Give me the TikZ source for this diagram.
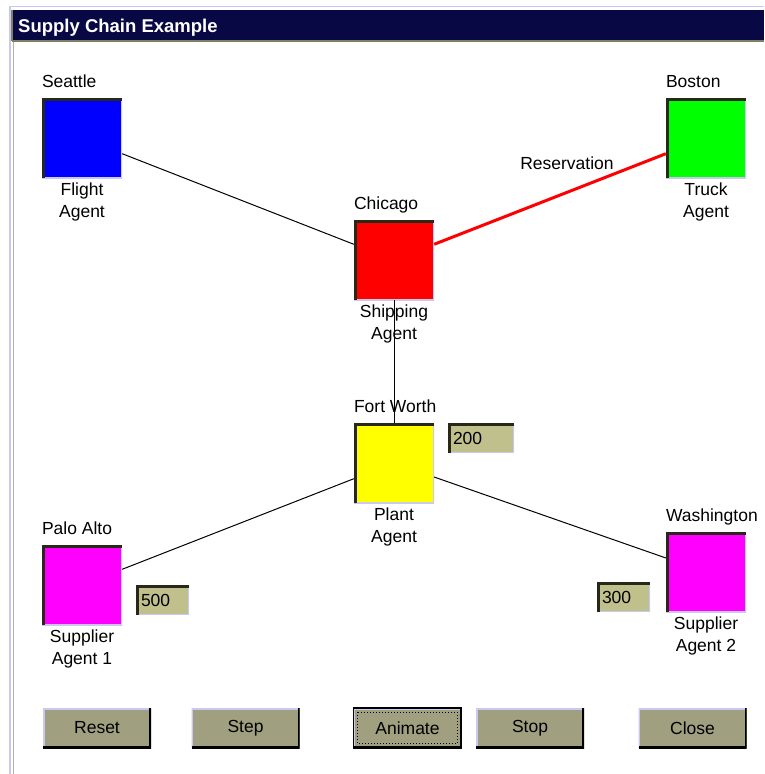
\documentclass[tikz,border=0pt]{standalone}
\usepackage{fontspec}
\setmainfont{Liberation Sans}
\usetikzlibrary{positioning}

\definecolor{titlenavy}{RGB}{8,8,68}
\definecolor{facegray}{RGB}{160,160,128}
\definecolor{fieldkhaki}{RGB}{192,192,140}
\definecolor{bevellight}{RGB}{200,200,240}
\definecolor{beveldark}{RGB}{40,40,24}
\definecolor{frameolive}{RGB}{128,128,96}
\definecolor{flightblue}{RGB}{0,0,255}
\definecolor{truckgreen}{RGB}{0,255,0}
\definecolor{shippingred}{RGB}{255,0,0}
\definecolor{plantyellow}{RGB}{255,255,0}
\definecolor{suppliermagenta}{RGB}{255,0,255}

\newcommand{\uifont}{\fontsize{17.5}{22}\selectfont}

\tikzset{
  sunken/.style={path picture={
      \draw[bevellight, line width=2pt] (path picture bounding box.north east) -- (path picture bounding box.south east) -- (path picture bounding box.south west);
      \draw[beveldark, line width=5pt] (path picture bounding box.south west) -- (path picture bounding box.north west) -- (path picture bounding box.north east);}},
  raised/.style={path picture={
      \draw[bevellight, line width=3pt] (path picture bounding box.south west) -- (path picture bounding box.north west) -- (path picture bounding box.north east);
      \draw[black, line width=4pt] (path picture bounding box.north east) -- (path picture bounding box.south east) -- (path picture bounding box.south west);}},
}

\begin{document}
\begin{tikzpicture}[x=1pt, y=-1pt,
    agent/.style = {sunken, minimum size=80pt, inner sep=0pt},
    city/.style = {anchor=base west, inner sep=0pt, font=\uifont},
    role/.style = {align=center, inner sep=0pt, font=\uifont},
    stock/.style = {sunken, fill=fieldkhaki, minimum height=29pt, inner xsep=5pt, align=left, font=\uifont},
    button/.style = {raised, fill=facegray, minimum width=108pt, minimum height=40pt, font=\uifont},
    link/.style = {line width=1pt},
    reservation/.style = {link, shippingred, line width=3pt}]

  % Window frame
  \useasboundingbox (0,0) rectangle (764,774);
  \fill[white] (0,0) rectangle (764,774);
  \draw[bevellight] (10,6) -- (764,6);
  \draw[bevellight, line width=1.5pt] (10,6) -- (10,774);
  \draw[frameolive!60] (13.5,42) -- (13.5,774);
  \fill[titlenavy] (12,10) rectangle (764,40);
  \draw[frameolive, line width=1.5pt] (12,41) -- (764,41);
  \draw[frameolive, line width=1.5pt] (12,10) -- (12,41);
  \node[anchor=base west, text=white, font=\bfseries\fontsize{18.5}{22}\selectfont, inner sep=0pt] (title) at (18,32) {Supply Chain Example};

  % Seattle
  \node[agent, fill=flightblue] (seattle) at (82,138) {};
  \node[city] (seattle-city) at ([yshift=10pt]seattle.north west) {Seattle};
  \node[role, below=4pt of seattle] (seattle-role) {Flight\\Agent};

  % Boston
  \node[agent, fill=truckgreen] (boston) at (706,138) {};
  \node[city] (boston-city) at ([yshift=10pt]boston.north west) {Boston};
  \node[role, below=4pt of boston] (boston-role) {Truck\\Agent};

  % Chicago
  \node[agent, fill=shippingred] (chicago) at (394,260) {};
  \node[city] (chicago-city) at ([yshift=10pt]chicago.north west) {Chicago};
  \node[role, below=4pt of chicago] (chicago-role) {Shipping\\Agent};

  % Fort Worth
  \node[agent, fill=plantyellow] (fortworth) at (394,463) {};
  \node[city] (fortworth-city) at ([yshift=10pt]fortworth.north west) {Fort Worth};
  \node[role, below=4pt of fortworth] (fortworth-role) {Plant\\Agent};
  \node[stock, text width=56pt] (fortworth-stock) at (481,438) {200};

  % Palo Alto
  \node[agent, fill=suppliermagenta] (paloalto) at (82,585) {};
  \node[city] (paloalto-city) at ([yshift=10pt]paloalto.north west) {Palo Alto};
  \node[role, below=4pt of paloalto] (paloalto-role) {Supplier\\Agent 1};
  \node[stock, text width=43pt] (paloalto-stock) at (162.5,600) {500};

  % Washington
  \node[agent, fill=suppliermagenta] (washington) at (706,572) {};
  \node[city] (washington-city) at ([yshift=10pt]washington.north west) {Washington};
  \node[role, below=4pt of washington] (washington-role) {Supplier\\Agent 2};
  \node[stock, text width=43pt] (washington-stock) at (623.5,597) {300};

  % Links
  \draw[link] (seattle) -- (chicago);
  \draw[reservation] (chicago) -- node[pos=0.79, anchor=south east, inner sep=2pt, text=black, font=\uifont] (reservation-label) {Reservation} (boston);
  \draw[link] (chicago) -- (fortworth);
  \draw[link] (fortworth) -- (paloalto);
  \draw[link] (fortworth) -- (washington);

  % Buttons
  \node[button] (reset) at (97,728) {Reset};
  \node[button] (step) at (245.5,728) {Step};
  \node[button, draw=black, line width=1.5pt] (animate) at (407.5,728) {Animate};
  \draw[dotted, line width=1pt] ([shift={(5pt,-5pt)}]animate.north west) rectangle ([shift={(-5pt,5pt)}]animate.south east);
  \node[button] (stop) at (530,728) {Stop};
  \node[button] (close) at (692.5,728) {Close};

\end{tikzpicture}
\end{document}
